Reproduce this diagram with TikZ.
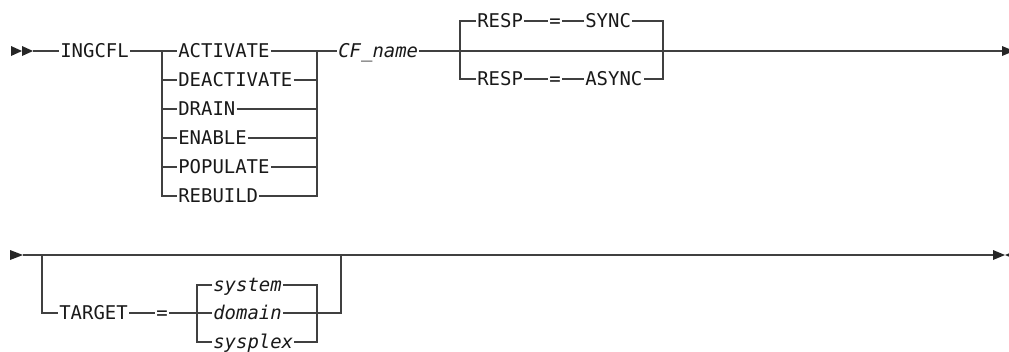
\documentclass[tikz,border=0pt]{standalone}
\usepackage{fontspec}
\newfontfamily\railfont{DejaVu Sans Mono}[ItalicFont={DejaVu Sans Mono Oblique}]

\tikzset{
  word/.style={font=\railfont\fontsize{14.2}{16}\selectfont,text=black!90,inner xsep=1pt,inner ysep=0pt,outer sep=0pt,text height=10.3pt,text depth=0pt,anchor=west},
  var/.style={word,font=\railfont\itshape\fontsize{14.2}{16}\selectfont},
  rail/.style={draw=black!75,line width=0.8pt},
  tri/.style={fill=black!85}
}

\begin{document}
\begin{tikzpicture}[x=0.75pt,y=-0.75pt]
      \useasboundingbox (0,0) rectangle (1009,351);

      \coordinate (s1) at (33,51);
      \coordinate (ca) at (162,51);
      \coordinate (cb) at (317,51);
      \coordinate (ra) at (460,51);
      \coordinate (rb) at (663,51);
      \coordinate (e1) at (1002,51);

      \node[word] (ingcfl) at (59,51) {INGCFL};
      \foreach \lbl/\yy [count=\i] in {ACTIVATE/51,DEACTIVATE/80,DRAIN/109,ENABLE/138,POPULATE/167,REBUILD/196}
        \node[word] (act\i) at (177,\yy) {\lbl};
      \node[var] (cfname) at (337,51) {CF\_name};
      \node[word] (resp1) at (476,21) {RESP};
      \node[word] (eq1) at (548,21) {=};
      \node[word] (sync) at (584,21) {SYNC};
      \node[word] (resp2) at (476,79) {RESP};
      \node[word] (eq2) at (548,79) {=};
      \node[word] (async) at (584,79) {ASYNC};

      \fill[tri] (s1) -- ++(-11,-5) -- ++(0,10) -- cycle;
      \fill[tri] (s1) ++(-11,0) -- ++(-11,-5) -- ++(0,10) -- cycle;
      \draw[rail] (s1) -- (ingcfl) -- (ca);
      \foreach \i in {1,...,6}
        \draw[rail] (ca |- act\i) -- (act\i) -- (cb |- act\i);
      \draw[rail] (ca) |- (act6.west);
      \draw[rail] (cb) |- (act6.east);
      \draw[rail] (cb) -- (cfname) -- (ra) -- (rb) -- (e1);
      \draw[rail] (resp1.west) -| (ra) |- (resp2.west);
      \draw[rail] (sync.east) -| (rb) |- (async.east);
      \draw[rail] (resp1) -- (eq1) -- (sync);
      \draw[rail] (resp2) -- (eq2) -- (async);
      \fill[tri] (e1) ++(0,-5) -- ++(12,5) -- ++(-12,5) -- cycle;

      \coordinate (s2) at (23,255);
      \coordinate (ta) at (42,255);
      \coordinate (tb) at (341,255);
      \coordinate (da) at (197,313);
      \coordinate (db) at (317,313);
      \coordinate (e2) at (993,255);

      \node[word] (target) at (58,313) {TARGET};
      \node[word] (eq3) at (155,313) {=};
      \foreach \lbl/\yy/\nm in {system/285/sys,domain/313/dom,sysplex/342/plex}
        \node[var] (\nm) at (212,\yy) {\lbl};

      \fill[tri] (s2) -- ++(-13,-5) -- ++(0,10) -- cycle;
      \draw[rail] (s2) -- (e2);
      \draw[rail] (ta) |- (target.west);
      \draw[rail] (target) -- (eq3) -- (dom);
      \draw[rail] (sys.west) -| (da) |- (plex.west);
      \draw[rail] (sys.east) -| (db) |- (plex.east);
      \draw[rail] (dom) -- (db) -| (tb);
      \fill[tri] (e2) ++(0,-5) -- ++(12,5) -- ++(-12,5) -- cycle;
      \fill[tri] (e2) ++(12,0) -- ++(12,-5) -- ++(0,10) -- cycle;

    \end{tikzpicture}
\end{document}
